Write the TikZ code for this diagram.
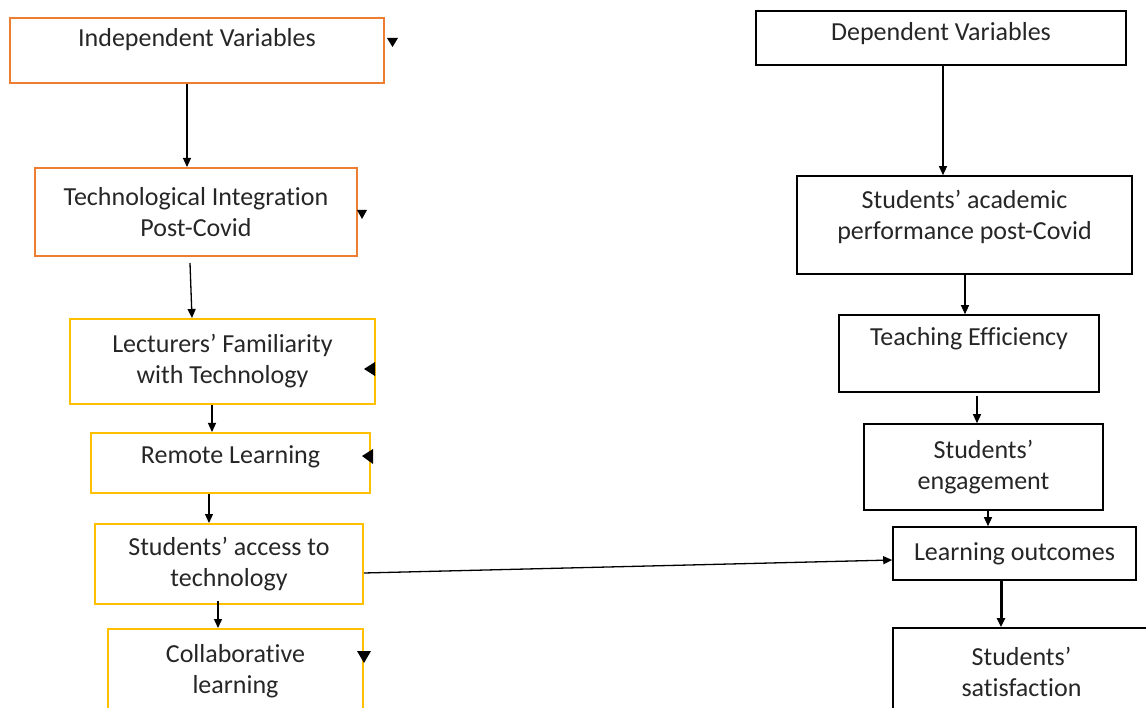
\documentclass[tikz,border=0pt]{standalone}
\usepackage{fontspec}
\setmainfont{Carlito}[Ligatures=NoCommon]
\usetikzlibrary{arrows.meta}
\definecolor{varorange}{RGB}{237,125,49}
\definecolor{varyellow}{RGB}{255,192,0}

\begin{document}
\begin{tikzpicture}[x=1pt,y=-1pt,
  every node/.style={font=\fontsize{26}{31}\selectfont, text=black!85, align=center, inner sep=0pt},
  obox/.style={draw=varorange, line width=2pt},
  ybox/.style={draw=varyellow, line width=2pt},
  kbox/.style={draw=black, line width=1.6pt},
  link/.style={-{Triangle[length=9pt,width=8pt]}, line width=1.3pt}]
\useasboundingbox (0,0) rectangle (1146,708);
\node[obox, minimum width=374, minimum height=65] (indep) at (197,50.5) {Independent Variables\\[-5pt]\mbox{}};
\node[obox, minimum width=322, minimum height=88] (tech) at (196,212) {Technological Integration\\Post-Covid};
\node[ybox, minimum width=305, minimum height=85] (lect) at (222.5,361.5) {Lecturers’ Familiarity\\with Technology};
\node[ybox, minimum width=279, minimum height=60] (remote) at (230.5,463) {Remote Learning\\[-14pt]\mbox{}};
\node[ybox, minimum width=268, minimum height=80] (access) at (229,564) {Students’ access to\\technology};
\node[ybox, minimum width=255, minimum height=85] (collab) at (235.5,671.5) {Collaborative\\learning};
\node[kbox, minimum width=370, minimum height=54] (depvar) at (941,38) {Dependent Variables\\[-18pt]\mbox{}};
\node[kbox, minimum width=335, minimum height=98] (perf) at (964.5,225) {Students’ academic\\performance post-Covid\\[-10pt]\mbox{}};
\node[kbox, minimum width=260, minimum height=77] (teach) at (969,353.5) {Teaching Efficiency\\[3pt]\mbox{}};
\node[kbox, minimum width=239, minimum height=86] (engage) at (983.5,467) {Students’\\engagement};
\node[kbox, minimum width=243, minimum height=53] (outcome) at (1014.5,553.5) {Learning outcomes};
\node[kbox, minimum width=257, minimum height=87] (satis) at (1021.5,671.5) {Students’\\satisfaction};
\draw[link] ([xshift=-10pt]indep.south) -- ([xshift=-9pt]tech.north);
\draw[link] ([xshift=-6pt,yshift=-6pt]tech.south) -- ([xshift=-30.5pt]lect.north);
\draw[link] ([xshift=-10.5pt]lect.south) -- ([xshift=-18.5pt]remote.north);
\draw[link] ([xshift=-21.5pt]remote.south) -- ([xshift=-20pt]access.north);
\draw[link] ([xshift=-11pt,yshift=4pt]access.south) -- ([xshift=-17.5pt]collab.north);
\draw[link] ([yshift=-9pt]access.east) -- ([yshift=-6.5pt]outcome.west);
\draw[link] ([xshift=2pt]depvar.south) -- ([xshift=-21.5pt]perf.north);
\draw[link] ([xshift=0.5pt]perf.south) -- ([xshift=-4pt]teach.north);
\draw[link] ([xshift=8pt,yshift=-3pt]teach.south) -- ([xshift=-6.5pt]engage.north);
\draw[link] ([xshift=4.5pt]engage.south) -- ([xshift=-26.5pt]outcome.north);
\draw[link, line width=3pt] ([xshift=-13.5pt]outcome.south) -- ([xshift=-20.5pt]satis.north);
\fill (387,38) -- (398,38) -- (392.5,47) -- cycle;
\fill (357,210) -- (367,210) -- (362,219) -- cycle;
\fill (375,362) -- (375,376) -- (364,369) -- cycle;
\fill (373,449) -- (373,464) -- (362,456) -- cycle;
\fill (357,651) -- (371,651) -- (364,663) -- cycle;
\end{tikzpicture}
\end{document}
